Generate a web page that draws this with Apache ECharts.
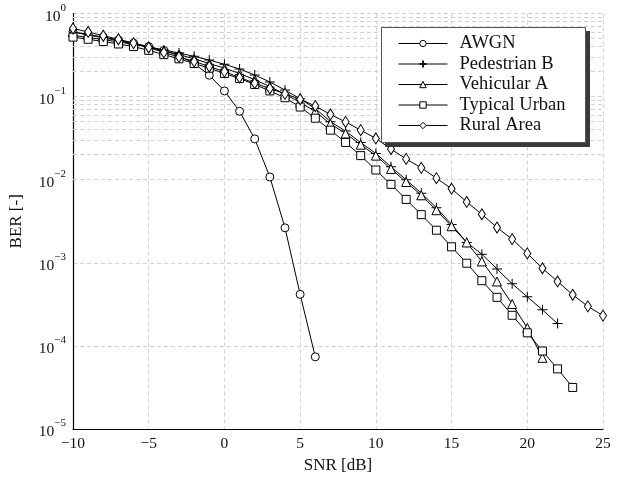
<!DOCTYPE html>
<html>
<head>
<meta charset="utf-8">
<script src="https://cdn.jsdelivr.net/npm/echarts@6/dist/echarts.min.js"></script>
<style>html,body{margin:0;padding:0;background:#fff}#c{width:620px;height:479px}</style>
</head>
<body>
<div id="c"></div>
<script>
const snr = [-10,-9,-8,-7,-6,-5,-4,-3,-2,-1,0,1,2,3,4,5,6,7,8,9,10,11,12,13,14,15,16,17,18,19,20,21,22,23,24,25];
const seriesNames = ['AWGN','Pedestrian B','Vehicular A','Typical Urban','Rural Area'];
const awgn = [0.60,0.56,0.52,0.48,0.44,0.40,0.36,0.31,0.25,0.181,0.117,0.0666,0.031,0.0108,0.00264,4.18e-4,7.4e-5];
const pedestrianB = [0.545,0.515,0.485,0.455,0.425,0.395,0.365,0.335,0.305,0.275,0.245,0.215,0.182,0.15,0.12,0.094,0.072,0.05,0.0385,0.028,0.0207,0.0143,0.01,0.0069,0.0046,0.0029,0.00176,0.00127,8.45e-4,5.6e-4,3.9e-4,2.72e-4,1.86e-4];
const vehicularA = [0.60,0.55,0.51,0.47,0.43,0.39,0.355,0.32,0.285,0.25,0.22,0.19,0.16,0.132,0.107,0.085,0.066,0.047,0.036,0.0264,0.0195,0.0135,0.0094,0.0065,0.0043,0.00276,0.00176,0.00104,5.97e-4,3.2e-4,1.65e-4,7.2e-5];
const typicalUrban = [0.52,0.49,0.46,0.43,0.40,0.36,0.32,0.285,0.25,0.22,0.19,0.165,0.14,0.117,0.097,0.075,0.055,0.0395,0.0281,0.0195,0.0131,0.0088,0.0058,0.0038,0.00247,0.00156,0.00099,6.1e-4,3.85e-4,2.34e-4,1.44e-4,8.7e-5,5.3e-5,3.17e-5];
const ruralArea = [0.66,0.60,0.54,0.49,0.44,0.39,0.34,0.30,0.265,0.23,0.20,0.17,0.145,0.125,0.108,0.093,0.077,0.061,0.0496,0.0395,0.0314,0.0234,0.0178,0.0139,0.01045,0.0078,0.0054,0.00384,0.00266,0.00193,0.0013,8.6e-4,5.97e-4,4.13e-4,3.0e-4,2.32e-4];
const xTicks = [-10,-5,0,5,10,15,20,25];
const yDecades = [-5,-4,-3,-2,-1,0];

const FONT = 'Liberation Serif';
const plus = 'path://M4.5,0H5.5V4.5H10V5.5H5.5V10H4.5V5.5H0V4.5H4.5Z';
const symbols = ['circle', plus, 'triangle', 'rect', 'diamond'];
const symSizes = [8, 10, 9, 8, [7, 11]];
const values = [awgn, pedestrianB, vehicularA, typicalUrban, ruralArea];

const minorLines = [];
yDecades.slice(0, -1).forEach(d => { for (let k = 2; k <= 9; k++) minorLines.push({ yAxis: k * Math.pow(10, d) }); });

const series = values.map((arr, i) => ({
  name: seriesNames[i],
  type: 'line',
  data: arr.map((v, j) => [snr[j], v]),
  symbol: symbols[i],
  symbolSize: symSizes[i],
  showAllSymbol: true,
  lineStyle: { color: '#000', width: 1 },
  itemStyle: { color: i === 1 ? '#000' : '#fff', borderColor: '#000', borderWidth: i === 1 ? 0 : 1 },
  z: 5 + i
}));
series.push({
  type: 'line', data: [], silent: true,
  markLine: { silent: true, symbol: 'none', label: { show: false },
    lineStyle: { color: '#d2d2d2', type: [4, 3], width: 1 }, data: minorLines, animation: false }
});

const chart = echarts.init(document.getElementById('c'), null, { renderer: 'canvas' });
chart.setOption({
  animation: false,
  backgroundColor: '#fff',
  textStyle: { fontFamily: FONT },
  grid: { left: 72, right: 17, top: 13.5, bottom: 46.5 },
  graphic: [
    { type: 'rect', z: 100, silent: true, shape: { x: 385, y: 31, width: 205, height: 116 }, style: { fill: '#3a3a3a' } },
    { type: 'rect', z: 101, silent: true, shape: { x: 381.5, y: 27.5, width: 204, height: 115 }, style: { fill: '#fff', stroke: '#555', lineWidth: 1 } }
  ],
  legend: {
    orient: 'vertical', left: 381, top: 27, z: 110,
    data: seriesNames,
    itemWidth: 49, itemHeight: 8, itemGap: 1.5,
    padding: [7, 18, 8, 17],
    itemStyle: { borderWidth: 1 },
    lineStyle: { width: 1 },
    textStyle: { fontFamily: FONT, fontSize: 18.5, lineHeight: 18, color: '#111', padding: [0, 0, 0, 7] }
  },
  xAxis: {
    type: 'value', min: -10, max: 25, interval: 5,
    name: 'SNR [dB]', nameLocation: 'middle', nameGap: 26,
    nameTextStyle: { fontFamily: FONT, fontSize: 17, color: '#111' },
    axisLine: { lineStyle: { color: '#000', width: 1.2 } },
    axisTick: { show: false },
    axisLabel: { fontFamily: FONT, fontSize: 15.5, color: '#111', margin: 7,
      formatter: v => String(v).replace('-', '\u2212') },
    splitLine: { show: true, lineStyle: { color: '#d2d2d2', type: [4, 3] } }
  },
  yAxis: {
    type: 'log', logBase: 10, min: 1e-5, max: 1,
    name: 'BER [-]', nameLocation: 'middle', nameGap: 48,
    nameTextStyle: { fontFamily: FONT, fontSize: 17, color: '#111' },
    axisLine: { show: true, onZero: false, lineStyle: { color: '#000', width: 1.2 } },
    axisTick: { show: false },
    axisLabel: { margin: 7, color: '#111',
      formatter: v => { const e = Math.round(Math.log10(v)); return '{b|10}{s|' + String(e).replace('-', '\u2212') + '}'; },
      rich: { b: { fontFamily: FONT, fontSize: 15.5, color: '#111', padding: [6, 0, 0, 0] },
              s: { fontFamily: FONT, fontSize: 11, color: '#111', verticalAlign: 'top', padding: [0, 0, 8, 0] } } },
    splitLine: { show: true, lineStyle: { color: '#d2d2d2', type: [4, 3] } }
  },
  series: series
});
</script>
</body>
</html>
